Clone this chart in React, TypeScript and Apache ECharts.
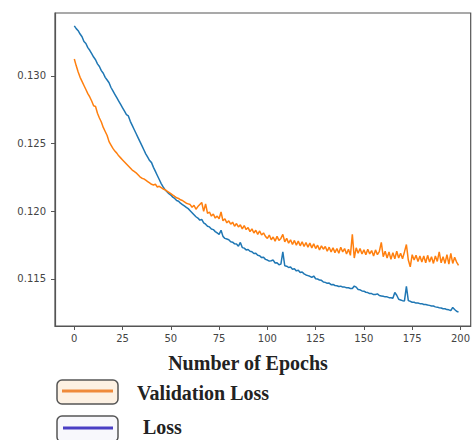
import React, { useEffect, useRef } from "react";
import * as echarts from "echarts";

const xTicks = [0, 25, 50, 75, 100, 125, 150, 175, 200];
const yTicks = [0.115, 0.12, 0.125, 0.13];

const lossValues = [
  0.13370, 0.13350, 0.13335, 0.13310, 0.13290, 0.13255, 0.13240, 0.13210, 0.13190, 0.13165,
  0.13140, 0.13120, 0.13090, 0.13070, 0.13040, 0.13020, 0.12990, 0.12970, 0.12950, 0.12915,
  0.12890, 0.12865, 0.12840, 0.12815, 0.12790, 0.12765, 0.12740, 0.12715, 0.12705, 0.12665,
  0.12635, 0.12605, 0.12575, 0.12545, 0.12515, 0.12485, 0.12455, 0.12425, 0.12400, 0.12375,
  0.12360, 0.12325, 0.12295, 0.12265, 0.12235, 0.12205, 0.12180, 0.12160, 0.12145, 0.12130,
  0.12120, 0.12105, 0.12095, 0.12080, 0.12075, 0.12060, 0.12050, 0.12040, 0.12030, 0.12020,
  0.12005, 0.11990, 0.11975, 0.11960, 0.11950, 0.11935, 0.11940, 0.11915, 0.11905, 0.11890,
  0.11885, 0.11870, 0.11865, 0.11850, 0.11840, 0.11830, 0.11860, 0.11815, 0.11800, 0.11795,
  0.11790, 0.11775, 0.11772, 0.11760, 0.11758, 0.11742, 0.11770, 0.11732, 0.11728, 0.11715,
  0.11718, 0.11705, 0.11702, 0.11688, 0.11690, 0.11675, 0.11672, 0.11658, 0.11660, 0.11645,
  0.11640, 0.11632, 0.11635, 0.11640, 0.11618, 0.11620, 0.11605, 0.11610, 0.11700, 0.11598,
  0.11595, 0.11585, 0.11588, 0.11572, 0.11575, 0.11560, 0.11565, 0.11548, 0.11552, 0.11538,
  0.11530, 0.11525, 0.11520, 0.11512, 0.11522, 0.11502, 0.11500, 0.11492, 0.11490, 0.11478,
  0.11475, 0.11468, 0.11470, 0.11458, 0.11460, 0.11452, 0.11450, 0.11445, 0.11447, 0.11440,
  0.11440, 0.11436, 0.11435, 0.11430, 0.11430, 0.11448, 0.11440, 0.11422, 0.11420, 0.11412,
  0.11410, 0.11402, 0.11400, 0.11392, 0.11392, 0.11385, 0.11385, 0.11390, 0.11378, 0.11375,
  0.11372, 0.11368, 0.11368, 0.11362, 0.11362, 0.11358, 0.11400, 0.11380, 0.11350, 0.11345,
  0.11340, 0.11338, 0.11445, 0.11340, 0.11335, 0.11328, 0.11328, 0.11322, 0.11322, 0.11318,
  0.11318, 0.11312, 0.11312, 0.11308, 0.11305, 0.11300, 0.11300, 0.11294, 0.11292, 0.11288,
  0.11286, 0.11280, 0.11280, 0.11274, 0.11272, 0.11266, 0.11290, 0.11275, 0.11262, 0.11255,
];

const validationValues = [
  0.13126, 0.13075, 0.13030, 0.12990, 0.12960, 0.12930, 0.12900, 0.12870, 0.12845, 0.12815,
  0.12780, 0.12775, 0.12725, 0.12690, 0.12660, 0.12620, 0.12590, 0.12560, 0.12515, 0.12490,
  0.12465, 0.12445, 0.12430, 0.12410, 0.12395, 0.12380, 0.12365, 0.12350, 0.12335, 0.12320,
  0.12305, 0.12295, 0.12285, 0.12270, 0.12255, 0.12245, 0.12240, 0.12230, 0.12220, 0.12210,
  0.12200, 0.12195, 0.12200, 0.12180, 0.12185, 0.12175, 0.12165, 0.12160, 0.12150, 0.12140,
  0.12130, 0.12120, 0.12110, 0.12100, 0.12095, 0.12085, 0.12080, 0.12070, 0.12060, 0.12055,
  0.12050, 0.12030, 0.12045, 0.12015, 0.12035, 0.12050, 0.12065, 0.12000, 0.12055, 0.11985,
  0.11995, 0.11965, 0.11980, 0.11950, 0.11965, 0.11945, 0.11995, 0.11930, 0.11945, 0.11915,
  0.11930, 0.11905, 0.11920, 0.11890, 0.11910, 0.11885, 0.11900, 0.11870, 0.11895, 0.11865,
  0.11880, 0.11850, 0.11870, 0.11840, 0.11860, 0.11830, 0.11855, 0.11825, 0.11840, 0.11815,
  0.11800, 0.11825, 0.11790, 0.11810, 0.11780, 0.11815, 0.11785, 0.11800, 0.11830, 0.11775,
  0.11800, 0.11765, 0.11790, 0.11755, 0.11785, 0.11750, 0.11780, 0.11745, 0.11775, 0.11740,
  0.11770, 0.11735, 0.11765, 0.11730, 0.11760, 0.11725, 0.11750, 0.11715, 0.11745, 0.11720,
  0.11740, 0.11705, 0.11735, 0.11700, 0.11730, 0.11695, 0.11725, 0.11690, 0.11735, 0.11700,
  0.11725, 0.11685, 0.11720, 0.11675, 0.11830, 0.11655, 0.11730, 0.11690, 0.11725, 0.11685,
  0.11715, 0.11680, 0.11720, 0.11685, 0.11710, 0.11670, 0.11715, 0.11680, 0.11705, 0.11770,
  0.11665, 0.11705, 0.11655, 0.11700, 0.11645, 0.11695, 0.11650, 0.11705, 0.11655, 0.11690,
  0.11650, 0.11700, 0.11755, 0.11640, 0.11590, 0.11680, 0.11640, 0.11675, 0.11630, 0.11670,
  0.11625, 0.11670, 0.11620, 0.11675, 0.11625, 0.11665, 0.11615, 0.11670, 0.11630, 0.11700,
  0.11620, 0.11665, 0.11615, 0.11680, 0.11610, 0.11690, 0.11615, 0.11660, 0.11625, 0.11600,
];

const xAxisTitle = "Number of Epochs";
const legendNames = ["Validation Loss", "Loss"];

export default function App() {
  const ref = useRef<HTMLDivElement>(null);
  useEffect(() => {
    if (!ref.current) return;
    const chart = echarts.init(ref.current, null, { renderer: "svg" });
    const serif = "'Liberation Serif', 'Times New Roman', serif";
    const option: any = {
      animation: false,
      backgroundColor: "#ffffff",
      grid: {
        left: 55,
        top: 13,
        right: 1,
        bottom: 114,
        show: true,
        borderColor: "#555555",
        borderWidth: 1.2,
      },
      xAxis: {
        type: "value",
        min: -10,
        max: 205.3,
        axisLine: { show: true, onZero: false, lineStyle: { color: "#555555", width: 1.2 } },
        axisTick: { show: true, length: 4, customValues: xTicks, lineStyle: { color: "#555555" } },
        axisLabel: {
          customValues: xTicks,
          margin: 7,
          fontSize: 10,
          color: "#444444",
          fontFamily: "'DejaVu Sans', sans-serif",
          formatter: (v: number) => String(Math.round(v)),
        },
        splitLine: { show: false },
      },
      yAxis: {
        type: "value",
        min: 0.111527,
        max: 0.134655,
        axisLine: { show: true, onZero: false, lineStyle: { color: "#555555", width: 1.2 } },
        axisTick: { show: true, length: 4, customValues: yTicks, lineStyle: { color: "#555555" } },
        axisLabel: {
          customValues: yTicks,
          margin: 9,
          fontSize: 10,
          color: "#444444",
          fontFamily: "'DejaVu Sans', sans-serif",
          formatter: (v: number) => v.toFixed(3),
        },
        splitLine: { show: false },
      },
      series: [
        {
          name: legendNames[1],
          type: "line",
          showSymbol: false,
          data: lossValues.map((v, i) => [i, v]),
          lineStyle: { color: "#1f77b4", width: 1.5 },
          itemStyle: { color: "#1f77b4" },
          z: 2,
        },
        {
          name: legendNames[0],
          type: "line",
          showSymbol: false,
          data: validationValues.map((v, i) => [i, v]),
          lineStyle: { color: "#ff7f0e", width: 1.5 },
          itemStyle: { color: "#ff7f0e" },
          z: 3,
        },
      ],
      graphic: [
        {
          type: "text",
          x: 248,
          y: 363,
          style: {
            text: xAxisTitle,
            font: `bold 20px ${serif}`,
            fill: "#222222",
            textAlign: "center",
            textVerticalAlign: "middle",
          },
        },
        {
          type: "rect",
          shape: { x: 57, y: 380, width: 61, height: 24, r: 5 },
          style: { fill: "#fdf1e3", stroke: "#555555", lineWidth: 1.5 },
        },
        {
          type: "line",
          shape: { x1: 62, y1: 391, x2: 113, y2: 391 },
          style: { stroke: "#ef8a3a", lineWidth: 3 },
        },
        {
          type: "text",
          x: 137,
          y: 393,
          style: {
            text: legendNames[0],
            font: `bold 20px ${serif}`,
            fill: "#222222",
            textAlign: "left",
            textVerticalAlign: "middle",
          },
        },
        {
          type: "rect",
          shape: { x: 57, y: 416, width: 61, height: 26, r: 5 },
          style: { fill: "#f8f8fc", stroke: "#555555", lineWidth: 1.5 },
        },
        {
          type: "line",
          shape: { x1: 63, y1: 428, x2: 113, y2: 428 },
          style: { stroke: "#4a3fc4", lineWidth: 3 },
        },
        {
          type: "text",
          x: 143,
          y: 427,
          style: {
            text: legendNames[1],
            font: `bold 20px ${serif}`,
            fill: "#222222",
            textAlign: "left",
            textVerticalAlign: "middle",
          },
        },
      ],
    };
    chart.setOption(option);
    return () => chart.dispose();
  }, []);
  return (
    <div
      ref={ref}
      style={{ position: "absolute", left: 0, top: 0, width: 473, height: 440 }}
    />
  );
}
